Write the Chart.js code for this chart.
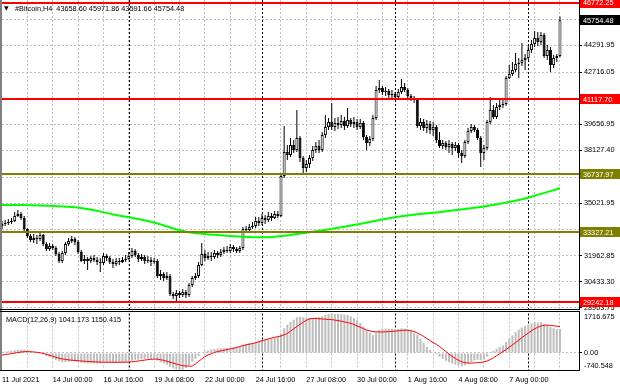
<!DOCTYPE html>
<html><head><meta charset="utf-8">
<script src="https://cdn.jsdelivr.net/npm/chart.js@4.4.0/dist/chart.umd.min.js"></script>
<style>
html,body{margin:0;padding:0;background:#fff;width:620px;height:388px;overflow:hidden}
canvas{position:absolute;left:0}
#main{top:0;width:620px;height:311px}
#macd{top:311px;width:620px;height:77px}
</style></head><body>
<canvas id="main" width="620" height="311"></canvas>
<canvas id="macd" width="620" height="77"></canvas>
<script>
// ---------- DATA ----------
const symbol = '#Bitcoin,H4';
const opens = [33697,33815,33873,33932,33990,34283,34401,34166,33522,33111,
32877,32994,32936,33170,32643,32350,32525,32408,32057,31646,
32115,32643,32818,32936,32760,32174,31646,31764,31646,31822,
31705,31588,31529,31939,31822,31588,31471,31646,31588,31705,
31764,31939,32232,31998,31764,31881,31646,31705,31588,31646,
30767,30885,30650,30767,29713,29595,29771,29654,29830,29654,
30240,30650,30767,31412,32057,31822,31939,31881,32115,31998,
32174,32291,32232,32467,32350,32232,32408,33522,33463,33639,
33697,33990,33873,34166,34049,34283,34166,34401,34283,36627,
38034,37858,38444,38151,38854,37682,37096,37331,37682,38151,
38385,38151,39030,39499,39792,39499,39733,39616,39850,39557,
39909,39675,39792,39499,39733,38913,38561,38796,40026,41667,
41784,41550,41608,41374,41433,41257,41550,41843,41667,41315,
41198,41081,39557,39792,39440,39675,39323,39499,38737,38385,
38561,38327,38503,38268,38444,37975,37799,38620,39264,39499,
39323,38854,37975,38268,39792,40495,40085,40671,40788,40847,
42370,42605,42839,43191,43249,43425,43542,44011,44363,44714,
44480,44890,43659,44011,43132,43542,43658.60];
const highs = [33990,34049,34108,34166,34518,34635,34518,34283,33580,33229,
33229,33170,33404,33229,32760,32701,32643,32525,32174,32232,
32760,32994,33111,33053,32877,32291,31998,31881,31939,31998,
31881,31822,32115,32057,31939,31764,31822,31822,31881,31998,
32174,32408,32350,32115,32057,31998,31939,31881,31822,31764,
31119,31002,31002,30885,29830,29947,29888,30006,29947,30357,
30767,30943,31588,32701,32291,32174,32174,32291,32232,32350,
32467,32525,32643,32584,32467,32525,33639,33697,33815,33932,
34225,34225,34401,34342,34518,34459,34576,34576,36745,39557,
38444,38854,38737,40495,38971,37799,37565,37858,38385,38620,
38737,39206,40202,40026,40905,40026,40085,40202,40085,40612,
40026,40085,39968,39968,39850,39030,38971,40202,41901,42253,
41901,41843,41726,41667,41550,41726,42312,42077,41784,41433,
41315,41198,40026,39968,39909,39850,39792,39616,39206,38737,
38678,38737,38620,38620,38561,38151,38737,39440,39675,39616,
39440,38971,38444,39909,41257,40788,40905,41081,41140,42487,
43132,43308,43835,43542,44421,43777,44245,44597,45124,45066,
45066,45007,44304,44187,43718,43777,45971.86];
const lows = [33522,33697,33756,33815,33932,34225,34049,33404,32994,32760,
32701,32643,32818,32525,32232,32232,32291,31939,31529,31529,
31998,32525,32701,32584,32057,31588,31471,31119,31529,31588,
31412,31002,31412,31646,31471,31236,31353,31412,31529,31588,
31705,31822,31881,31588,31646,31471,31529,31353,31471,30650,
30533,30474,30533,29595,29420,29244,29478,29537,29478,29537,
30123,30533,30650,31353,31646,31705,31646,31764,31822,31881,
32057,32115,32115,32174,32115,32115,32291,33346,33346,33522,
33580,33697,33756,33815,33932,33990,34108,34166,34225,36510,
37565,37741,37975,38034,37448,36686,36862,37096,37506,37975,
37975,38034,38854,39323,39323,39264,39382,39440,39323,39440,
39499,39440,39323,39382,38737,38151,38385,38678,39909,41491,
41374,41315,41198,41140,41081,41140,41433,41550,41198,41022,
40905,39440,39323,39264,39147,39089,38971,38561,38268,38210,
38151,37975,37858,38092,37682,37389,37682,38503,39147,39206,
38737,37155,37565,38151,39675,39968,39968,40495,40612,40729,
42312,42487,42722,42370,43073,42839,43425,43835,44187,44245,
44304,43542,43425,42722,42956,43308,43591.66];
const closes = [33815,33873,33932,33990,34283,34401,34166,33522,33111,32877,
32994,32936,33170,32643,32350,32525,32408,32057,31646,32115,
32643,32818,32936,32760,32174,31646,31764,31646,31822,31705,
31588,31529,31939,31822,31588,31471,31646,31588,31705,31764,
31939,32232,31998,31764,31881,31646,31705,31588,31646,30767,
30885,30650,30767,29713,29595,29771,29654,29830,29654,30240,
30650,30767,31412,32057,31822,31939,31881,32115,31998,32174,
32291,32232,32467,32350,32232,32408,33522,33463,33639,33697,
33990,33873,34166,34049,34283,34166,34401,34283,36627,38034,
37858,38444,38151,38854,37682,37096,37331,37682,38151,38385,
38151,39030,39499,39792,39499,39733,39616,39850,39557,39909,
39675,39792,39499,39733,38913,38561,38796,40026,41667,41784,
41550,41608,41374,41433,41257,41550,41843,41667,41315,41198,
41081,39557,39792,39440,39675,39323,39499,38737,38385,38561,
38327,38503,38268,38444,37975,37799,38620,39264,39499,39323,
38854,37975,38268,39792,40495,40085,40671,40788,40847,42370,
42605,42839,43191,43249,43425,43542,44011,44363,44714,44480,
44890,43659,44011,43132,43542,43659,45754.48];
// moving average, read at these bar positions
const maIdx = [0,6,12,25,36,47,58,68,76,82,91,97,108,125,139,153,163,167,176];
const maVal = [34928,34928,34900,34752,34342,33950,33363,33170,33071,33035,33170,33328,33656,34242,34535,34869,35221,35414,35907];
// MACD(12,26,9)
const macdMain = [40,60,80,100,120,140,150,140,110,70,
30,0,-20,-70,-130,-190,-240,-290,-350,-390,
-390,-380,-370,-370,-390,-430,-450,-460,-460,-455,
-455,-460,-440,-430,-430,-440,-430,-420,-410,-400,
-370,-330,-300,-290,-270,-260,-255,-250,-250,-330,
-400,-460,-510,-600,-680,-720,-740.548,-730,-650,-520,
-380,-250,-130,-20,60,110,150,170,190,200,
210,220,230,250,270,290,360,400,430,450,
480,510,550,580,610,640,670,690,850,1080,
1230,1360,1450,1550,1570,1550,1530,1520,1530,1540,
1550,1590,1650,1690,1716.675,1700,1690,1680,1660,1650,
1600,1520,1420,1300,1150,1000,870,780,900,1000,
1050,1060,1060,1050,1040,1050,1070,1060,1020,960,
880,780,620,430,260,130,30,-60,-160,-260,
-340,-400,-460,-500,-550,-580,-540,-450,-380,-330,
-300,-320,-280,-150,10,100,180,260,330,480,
620,760,900,1010,1110,1170,1230,1280,1320,1330,
1340,1270,1220,1130,1080,1040,1041.173];
const macdSignal = [-90,-70,-50,-30,-10,20,40,55,60,55,
45,30,10,-20,-60,-100,-140,-190,-230,-260,
-280,-300,-315,-325,-335,-350,-360,-370,-378,-385,
-390,-395,-400,-402,-404,-405,-405,-404,-402,-400,
-395,-385,-370,-350,-330,-310,-290,-275,-265,-270,
-290,-320,-360,-400,-440,-480,-520,-550,-565,-570,
-570,-480,-370,-260,-160,-90,-30,20,60,90,
120,150,175,200,240,280,320,350,380,410,
440,490,530,570,610,650,680,710,740,790,
850,950,1050,1150,1250,1340,1420,1480,1500,1500,
1490,1480,1470,1460,1450,1430,1410,1380,1350,1320,
1290,1240,1180,1120,1060,1000,960,930,920,915,
915,920,930,940,950,965,980,990,990,970,
930,870,800,720,630,540,450,380,280,170,
60,-50,-150,-240,-320,-380,-420,-440,-440,-430,
-420,-410,-390,-350,-290,-210,-120,-30,60,150,
250,350,450,560,670,770,870,960,1050,1120,
1170,1200,1210,1200,1185,1165,1150.415];
const macdMin = -740.548, macdMax = 1716.675;
// horizontal levels
const levels = [46772.25, 41117.70, 36737.97, 33327.21, 29242.18];
const levelColors = ['#ff0000','#ff0000','#808000','#808000','#ff0000'];
// axis ticks
const priceTicks = [28903.75,30433.30,31962.85,33492.40,35021.95,36551.50,38127.40,39656.95,41186.50,42716.05,44291.95,45821.50];
const priceMin = 28804, priceMax = 46941;
const xTickLabels = ['11 Jul 2021','14 Jul 00:00','16 Jul 16:00','19 Jul 08:00','22 Jul 00:00','24 Jul 16:00','27 Jul 08:00','30 Jul 00:00','1 Aug 16:00','4 Aug 08:00','7 Aug 00:00'];
const xTickStep = 16, gridStep = 8;
const separators = [40, 82, 124, 166];
const slotCount = 183; // bars plus empty shift area on the right

// ---------- BUILD ----------
const FONT = "'Liberation Sans', Arial, sans-serif";
const FS = 7.3;
const slots = Array.from({length: slotCount}, (_, i) => i);
const last = closes.length - 1;
const bodyData = opens.map((o, i) => [o, closes[i]]);
const wickData = lows.map((l, i) => [l, highs[i]]);
const bodyFill = opens.map((o, i) => closes[i] >= o ? '#ffffff' : '#000000');
const maData = slots.map(i => { const k = maIdx.indexOf(i); return k >= 0 ? maVal[k] : null; });
const GRID = '#c0c0c0';

function drawSeparators(chart) {
  const {ctx, chartArea: a, scales: {x}} = chart;
  ctx.save();
  ctx.strokeStyle = '#000'; ctx.lineWidth = 1; ctx.setLineDash([2, 2]);
  separators.forEach(i => {
    const px = Math.round(x.getPixelForValue(i)) + 0.5;
    ctx.beginPath(); ctx.moveTo(px, a.top); ctx.lineTo(px, a.bottom); ctx.stroke();
  });
  ctx.restore();
}

const mainDecor = {
  id: 'mainDecor',
  beforeDatasetsDraw(chart) { drawSeparators(chart); },
  afterDatasetsDraw(chart) {
    const {ctx, chartArea: a, scales: {y}} = chart;
    ctx.save();
    levels.forEach((v, k) => {
      const py = Math.round(y.getPixelForValue(v));
      ctx.fillStyle = levelColors[k];
      ctx.fillRect(a.left, py - 1, a.right - a.left, 2);
    });
    ctx.restore();
  },
  afterDraw(chart) {
    const {ctx, chartArea: a, scales: {y}} = chart;
    ctx.save();
    // frame
    ctx.fillStyle = '#808080'; ctx.fillRect(0, 0, 2, chart.height);
    ctx.fillStyle = '#000';
    ctx.fillRect(Math.round(a.right), 0, 1, Math.floor(a.bottom) + 1);
    ctx.fillRect(0, Math.floor(a.bottom), Math.round(a.right) + 1, 1);
    // price boxes
    ctx.font = FS + 'px ' + FONT; ctx.textBaseline = 'middle'; ctx.textAlign = 'left';
    const box = (v, col) => {
      const py = y.getPixelForValue(v);
      ctx.fillStyle = col; ctx.fillRect(a.right + 1, Math.round(py) - 5, 40, 10);
      ctx.fillStyle = '#fff'; ctx.fillText(v.toFixed(2), a.right + 4, py + 0.5);
    };
    levels.forEach((v, k) => box(v, levelColors[k]));
    box(closes[last], '#000000');
    // title
    ctx.fillStyle = '#000';
    ctx.font = '6px DejaVu Sans'; ctx.fillText('▼', 4, 8);
    ctx.font = FS + 'px ' + FONT;
    ctx.fillText(symbol + '  ' + [opens[last], highs[last], lows[last], closes[last]].map(v => v.toFixed(2)).join(' '), 15, 8.5);
    ctx.restore();
  }
};

const macdDecor = {
  id: 'macdDecor',
  beforeDatasetsDraw(chart) { drawSeparators(chart); },
  afterDraw(chart) {
    const {ctx, chartArea: a, scales: {y}} = chart;
    ctx.save();
    ctx.fillStyle = '#808080'; ctx.fillRect(0, 0, 2, Math.round(a.bottom) + 1);
    ctx.fillStyle = '#000';
    ctx.fillRect(0, 0, Math.round(a.right) + 1, 1);
    ctx.fillRect(0, Math.round(a.bottom), Math.round(a.right) + 1, 1);
    ctx.fillRect(Math.round(a.right), 0, 1, Math.round(a.bottom) + 1);
    ctx.font = FS + 'px ' + FONT; ctx.textBaseline = 'middle'; ctx.textAlign = 'left';
    ctx.fillText(macdMax.toFixed(3), a.right + 5, a.top + 3.5);
    ctx.fillText('0.00', a.right + 5, y.getPixelForValue(0) + 0.5);
    ctx.fillText(macdMin.toFixed(3), a.right + 5, a.bottom - 4);
    ctx.fillText('MACD(12,26,9) ' + macdMain[last].toFixed(3) + ' ' + macdSignal[last].toFixed(3), 6, 8.5);
    ctx.restore();
  }
};

const common = {
  responsive: false, animation: false, devicePixelRatio: 1,
  events: [],
  plugins: { legend: { display: false }, tooltip: { enabled: false } }
};

new Chart(document.getElementById('main'), {
  type: 'bar',
  data: {
    labels: slots,
    datasets: [
      { type: 'line', data: maData, borderColor: '#00ff00', borderWidth: 2, pointRadius: 0,
        spanGaps: true, tension: 0.4, cubicInterpolationMode: 'monotone', order: 0 },
      { type: 'bar', data: bodyData, backgroundColor: bodyFill, borderColor: '#000', borderWidth: 1,
        borderSkipped: false, barThickness: 3, grouped: false, inflateAmount: 0, order: 1 },
      { type: 'bar', data: wickData, backgroundColor: '#000', borderWidth: 0,
        barThickness: 1, grouped: false, inflateAmount: 0, order: 2 }
    ]
  },
  options: Object.assign({}, common, {
    layout: { padding: { left: 2, top: 0, right: 0, bottom: 0 } },
    scales: {
      x: {
        type: 'category', offset: false,
        grid: { color: GRID, lineWidth: 1, drawTicks: false, offset: false },
        border: { display: false, dash: [2, 2] },
        ticks: { display: false, autoSkip: false },
        afterBuildTicks: s => { s.ticks = s.ticks.filter(t => t.value % gridStep === 0 && t.value > 0); },
        afterFit: s => { s.height = 1.5; s.paddingLeft = 0; s.paddingRight = 0; }
      },
      y: {
        position: 'right', min: priceMin, max: priceMax,
        afterBuildTicks: s => { s.ticks = priceTicks.map(v => ({ value: v })); },
        ticks: { autoSkip: false, callback: v => Number(v).toFixed(2), font: { family: FONT, size: FS }, color: '#000', padding: 2 },
        grid: { color: GRID, tickColor: '#000', tickLength: 3, tickWidth: 1, tickBorderDash: [] },
        border: { display: false, dash: [2, 2] },
        afterFit: s => { s.width = 41; s.paddingTop = 0; s.paddingBottom = 0; }
      }
    }
  }),
  plugins: [mainDecor]
});

new Chart(document.getElementById('macd'), {
  type: 'bar',
  data: {
    labels: slots,
    datasets: [
      { type: 'line', data: macdSignal, borderColor: '#ff0000', borderWidth: 1, pointRadius: 0, tension: 0, order: 0 },
      { type: 'bar', data: macdMain, backgroundColor: '#bdbdbd', borderWidth: 0, barThickness: 2,
        grouped: false, inflateAmount: 0, order: 1 }
    ]
  },
  options: Object.assign({}, common, {
    layout: { padding: { left: 2, top: 2.5, right: 0, bottom: 0 } },
    scales: {
      x: {
        type: 'category', offset: false,
        grid: { color: c => (c.tick && c.tick.value === 0) ? 'rgba(0,0,0,0)' : GRID, drawTicks: false, offset: false },
        border: { display: false, dash: [2, 2] },
        ticks: {
          autoSkip: false, maxRotation: 0, minRotation: 0, align: 'start', padding: 6,
          font: { family: FONT, size: FS }, color: '#000',
          callback: v => (v % xTickStep === 0 && v / xTickStep < xTickLabels.length) ? xTickLabels[v / xTickStep] : ''
        },
        afterBuildTicks: s => { s.ticks = s.ticks.filter(t => t.value % gridStep === 0); },
        afterFit: s => { s.height = 18; s.paddingLeft = 0; s.paddingRight = 0; }
      },
      y: {
        position: 'right', min: macdMin, max: macdMax,
        afterBuildTicks: s => { s.ticks = [{ value: 0 }]; },
        ticks: { display: false },
        grid: { color: GRID, tickColor: '#000', tickLength: 3, tickBorderDash: [] },
        border: { display: false, dash: [2, 2] },
        afterFit: s => { s.width = 41; s.paddingTop = 0; s.paddingBottom = 0; }
      }
    }
  }),
  plugins: [macdDecor]
});
</script>
</body></html>
